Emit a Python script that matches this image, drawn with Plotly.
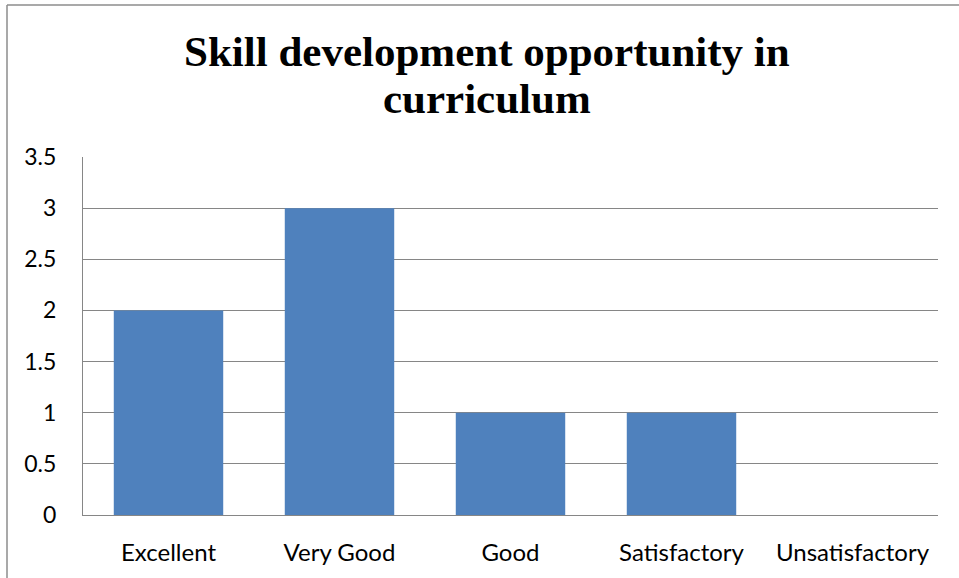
import plotly.graph_objects as go

categories = ["Excellent", "Very Good", "Good", "Satisfactory", "Unsatisfactory"]
values = [2, 3, 1, 1, 0]
y_ticks = [0, 0.5, 1, 1.5, 2, 2.5, 3, 3.5]
y_tick_labels = ["0", "0.5", "1", "1.5", "2", "2.5", "3", "3.5"]
title_lines = ["Skill development opportunity in", "curriculum"]

W, H = 959, 578
L, R, T, B = 83, 21, 157, 63
pw, ph = W - L - R, H - T - B

fig = go.Figure(go.Bar(x=categories, y=values, marker_color="#4F81BD", marker_line_width=0))

def px_x(p):
    return (p - L) / pw

def px_y(p):
    return (H - B - p) / ph

TS = 43
annotations = []
for line, yc in zip(title_lines, [51, 99]):
    annotations.append(dict(
        text="<b>" + line + "</b>", showarrow=False,
        xref="paper", yref="paper", x=px_x(487), y=px_y(yc),
        xanchor="center", yanchor="middle",
        font=dict(family="Liberation Serif", size=TS, color="black"),
    ))

fig.update_layout(
    width=W, height=H,
    margin=dict(l=L, r=R, t=T, b=B, pad=0),
    paper_bgcolor="white", plot_bgcolor="white",
    bargap=0.36,
    showlegend=False,
    font=dict(family="Lato", size=23, color="black"),
    xaxis=dict(
        showgrid=False, showline=True, linecolor="#868686", linewidth=1,
        ticks="", ticklabelstandoff=16,
        tickfont=dict(family="Lato", size=24, color="black"),
    ),
    yaxis=dict(
        range=[0, 3.5], tickvals=y_ticks, ticktext=y_tick_labels,
        showgrid=True, gridcolor="#868686", gridwidth=1,
        showline=True, linecolor="#868686", linewidth=1,
        zeroline=False, ticks="", ticklabelstandoff=21,
        tickfont=dict(family="Lato", size=23, color="black"),
    ),
    annotations=annotations,
    shapes=[
        dict(type="line", xref="paper", yref="paper",
             x0=px_x(7), x1=px_x(W + 5), y0=px_y(5), y1=px_y(5),
             line=dict(color="#8c8c8c", width=1.5)),
        dict(type="line", xref="paper", yref="paper",
             x0=px_x(7), x1=px_x(7), y0=px_y(5), y1=px_y(H + 5),
             line=dict(color="#8c8c8c", width=1.5)),
    ],
)

fig.write_html("out.html", config={"displayModeBar": False},
               post_script="document.body.style.margin='0';document.body.style.overflow='hidden';")
